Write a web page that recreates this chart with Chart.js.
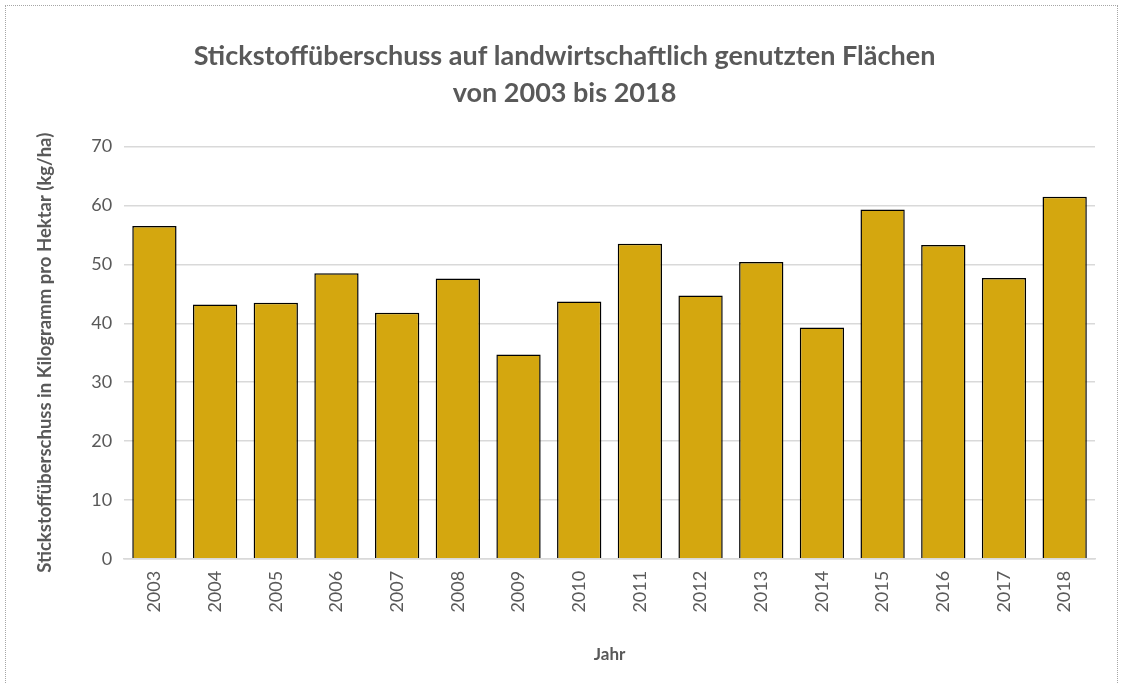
<!DOCTYPE html>
<html>
<head>
<meta charset="utf-8">
<script src="https://cdn.jsdelivr.net/npm/chart.js@4"></script>
<style>
    html, body { margin: 0; padding: 0; background: #fff; }
    #wrap { position: absolute; left: 5px; top: 5px; width: 1113px; height: 690px; border: 1px dotted #a6a6a6; box-sizing: border-box; }
    #box { position: absolute; left: 0; top: 0; width: 1123px; height: 683px; }
</style>
</head>
<body>
<div id="wrap"></div>
<div id="box"><canvas id="chart"></canvas></div>
<script>
const years = ["2003", "2004", "2005", "2006", "2007", "2008", "2009", "2010",
    "2011", "2012", "2013", "2014", "2015", "2016", "2017", "2018"];
const surplus = [56.5, 43.2, 43.5, 48.5, 41.8, 47.6, 34.7, 43.7,
    53.5, 44.7, 50.4, 39.3, 59.3, 53.3, 47.7, 61.5];

const titleLines = ["Stickstoffüberschuss auf landwirtschaftlich genutzten Flächen", "von 2003 bis 2018"];
const yTitle = "Stickstoffüberschuss in Kilogramm pro Hektar (kg/ha)";
const xTitle = "Jahr";

const textGray = "#595959";
const fontName = "Lato, 'Open Sans', sans-serif";

const ctx = document.getElementById("chart");

new Chart(ctx, {
    type: "bar",
    data: {
        labels: years,
        datasets: [{
            data: surplus,
            backgroundColor: "#d4a70f",
            borderColor: "#000",
            borderWidth: 1.5,
            barPercentage: 0.73,
            categoryPercentage: 1
        }]
    },
    options: {
        responsive: true,
        maintainAspectRatio: false,
        animation: false,
        layout: { padding: { left: 34, right: 28, top: 37, bottom: 18 } },
        plugins: {
            legend: { display: false },
            tooltip: { enabled: false },
            title: {
                display: true,
                text: titleLines,
                color: textGray,
                font: { family: fontName, size: 27, weight: "bold", lineHeight: 1.4 },
                padding: { top: 0, bottom: 34 }
            }
        },
        scales: {
            x: {
                grid: { display: false },
                border: { color: "#d9d9d9", width: 1.5 },
                ticks: {
                    color: textGray,
                    font: { family: fontName, size: 18 },
                    minRotation: 90,
                    maxRotation: 90,
                    padding: 4
                },
                title: {
                    display: true,
                    text: xTitle,
                    color: textGray,
                    font: { family: fontName, size: 17, weight: "bold" },
                    padding: { top: 28, bottom: 0 }
                }
            },
            y: {
                min: 0,
                max: 70,
                ticks: {
                    stepSize: 10,
                    color: textGray,
                    font: { family: fontName, size: 18 },
                    padding: 12
                },
                grid: { color: "#d9d9d9", lineWidth: 1.5, drawTicks: false },
                border: { display: false },
                title: {
                    display: true,
                    text: yTitle,
                    color: textGray,
                    font: { family: fontName, size: 18.5, weight: "bold" },
                    padding: { top: 0, bottom: 23 }
                }
            }
        }
    }
});
</script>
</body>
</html>
